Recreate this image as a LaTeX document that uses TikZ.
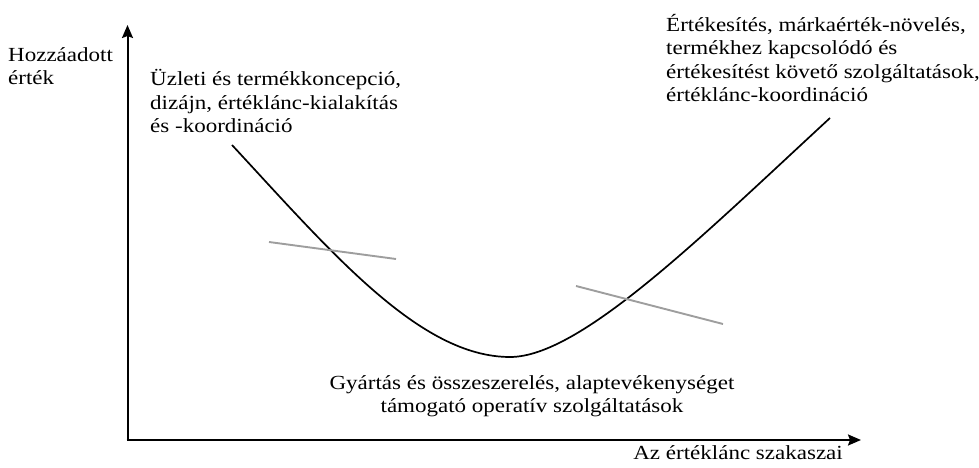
\documentclass[tikz,border=0pt]{standalone}
\usepackage{fontspec}
\setmainfont[FakeStretch=1.15]{Liberation Serif}
\usepackage{xcolor}
\usetikzlibrary{arrows.meta, positioning, calc}

\begin{document}
\begin{tikzpicture}[
    x=1pt, y=1pt,
    font=\fontsize{20}{23.5}\selectfont,
    axis/.style={
        line width=2pt,
        -{Stealth[length=13pt, width=11pt, inset=2pt]}
    },
    curve/.style={
        line width=1.7pt
    },
    tick/.style={
        line width=1.9pt,
        draw=black!38
    },
    label/.style={
        align=left,
        inner sep=0pt
    }
]
    \useasboundingbox (0,0) rectangle (979,468);

    % Axes
    \coordinate (origin) at (127.5,28);
    \coordinate (ytop) at (127.5,443);
    \coordinate (xend) at (861,28);
    \draw[axis] (origin) -- (ytop);
    \draw[axis] ($(origin)+(-1,0)$) -- (xend);

    % Axis labels
    \node[label, anchor=base west] (ylabel) at (8,383) {Hozzáadott\\érték};
    \node[label, anchor=base east] (xlabel) at (843,8) {Az értéklánc szakaszai};

    % Smile curve
    \coordinate (cstart) at (232,323);
    \coordinate (cmid) at (510,111);
    \coordinate (cend) at (830,350);
    \draw[curve] (cstart) .. controls (332,215) and (420,111) .. (cmid)
        .. controls (580,111) and (700,230) .. (cend);

    % Gray tangent lines
    \coordinate (tla) at (269,226);
    \coordinate (tlb) at (396,209);
    \coordinate (tra) at (576,182);
    \coordinate (trb) at (723,144);
    \draw[tick] (tla) -- (tlb);
    \draw[tick] (tra) -- (trb);

    % Stage labels
    \node[label, anchor=base west] (design) at (150,335)
        {Üzleti és termékkoncepció,\\dizájn, értéklánc-kialakítás\\és -koordináció};
    \node[label, anchor=base west] (sales) at (666,366)
        {Értékesítés, márkaérték-növelés,\\termékhez kapcsolódó és\\értékesítést követő szolgáltatások,\\értéklánc-koordináció};
    \node[label, align=center, anchor=base] (assembly) at (532,55)
        {Gyártás és összeszerelés, alaptevékenységet\\támogató operatív szolgáltatások};

\end{tikzpicture}
\end{document}
